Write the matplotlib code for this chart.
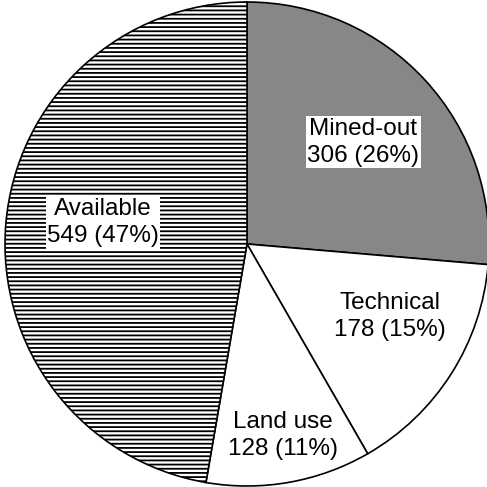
import matplotlib.pyplot as plt

plt.rcParams['font.family'] = ['Liberation Sans', 'DejaVu Sans']
plt.rcParams['hatch.linewidth'] = 1.3

# Data (clockwise from 12 o'clock)
labels = ['Mined-out', 'Technical', 'Land use', 'Available']
values = [306, 178, 128, 549]
percents = [26, 15, 11, 47]
fills = ['#878787', 'white', 'white', 'white']
hatches = [None, None, None, '----']

fig = plt.figure(figsize=(4.87, 4.87), dpi=100)
ax = fig.add_axes([5 / 487, 1 / 487, 484 / 487, 484 / 487])

wedges, _ = ax.pie(values, startangle=90, counterclock=False, radius=1,
                   wedgeprops=dict(edgecolor='black', linewidth=1.2))
for w, fc, h in zip(wedges, fills, hatches):
    w.set_facecolor(fc)
    if h:
        w.set_hatch(h)

# label positions and whether they sit on a white box
label_pos = [(0.48, 0.42), (0.59, -0.30), (0.15, -0.79), (-0.595, 0.087)]
boxed = [True, False, False, True]
for lab, v, p, (x, y), b in zip(labels, values, percents, label_pos, boxed):
    bbox = dict(facecolor='white', edgecolor='none', pad=1.0) if b else None
    ax.text(x, y, f'{lab}\n{v} ({p}%)', ha='center', va='center',
            fontsize=17.5, linespacing=1.3, bbox=bbox)

ax.set_xlim(-1, 1)
ax.set_ylim(-1, 1)
ax.set_aspect('equal')
ax.axis('off')

plt.savefig('out.png', dpi=100)
